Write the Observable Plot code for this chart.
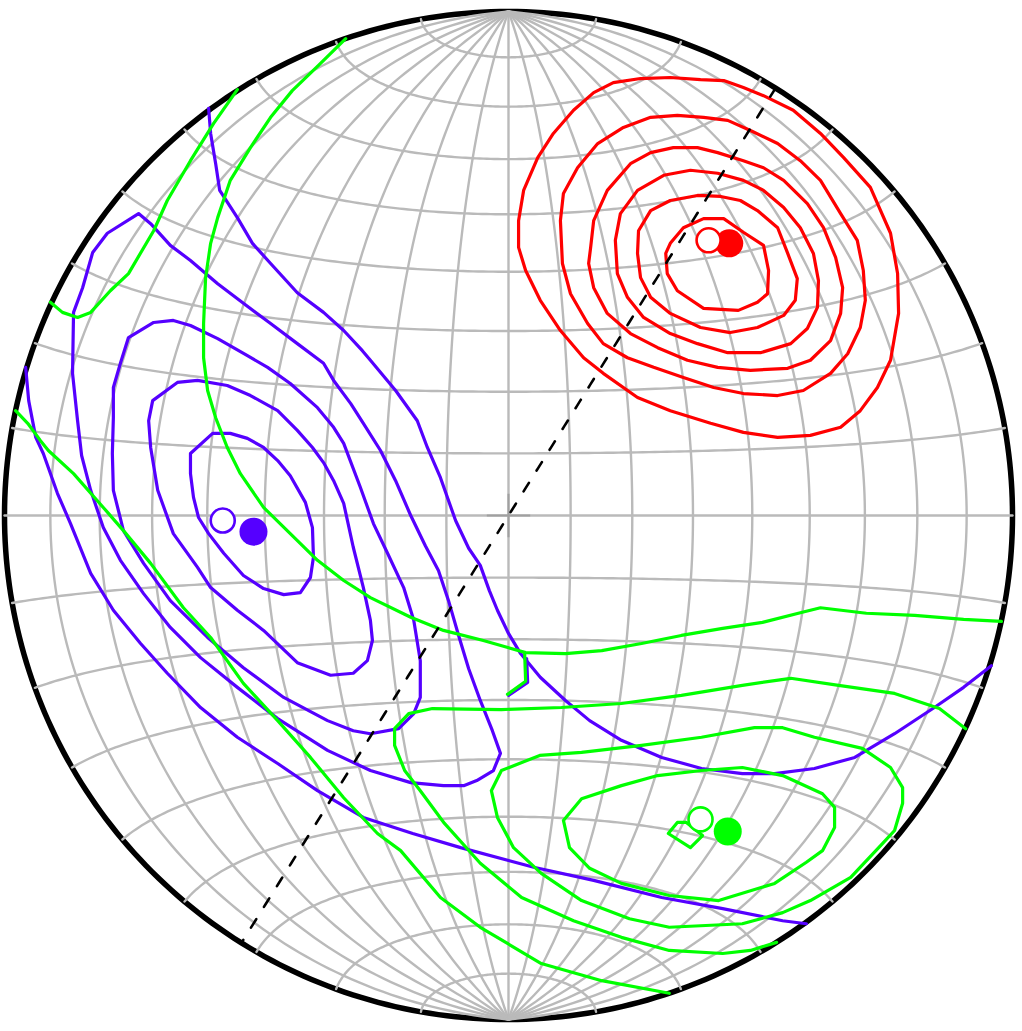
<!DOCTYPE html>
<html><head><meta charset="utf-8">
<script src="https://cdn.jsdelivr.net/npm/d3@7"></script>
<script src="https://cdn.jsdelivr.net/npm/@observablehq/plot@0.6"></script>
<style>html,body{margin:0;padding:0;background:#fff;}</style>
</head><body><div id="chart"></div>
<script>
// ---- Data: projected coordinates on the unit equal-area net (x east, y north) ----
const red1 = [[0.321,0.540],[0.347,0.571],[0.387,0.589],[0.427,0.589],[0.466,0.562],[0.506,0.536],[0.516,0.486],[0.514,0.440],[0.494,0.423],[0.456,0.407],[0.387,0.411],[0.335,0.446],[0.315,0.480],[0.312,0.520]];
const red2 = [[0.258,0.565],[0.282,0.605],[0.321,0.625],[0.375,0.635],[0.421,0.633],[0.460,0.625],[0.494,0.605],[0.534,0.571],[0.554,0.520],[0.573,0.470],[0.569,0.427],[0.546,0.397],[0.494,0.373],[0.440,0.363],[0.381,0.373],[0.321,0.401],[0.282,0.433],[0.262,0.472],[0.256,0.520]];
const red3 = [[0.212,0.546],[0.222,0.599],[0.256,0.645],[0.308,0.675],[0.361,0.685],[0.415,0.679],[0.466,0.665],[0.506,0.645],[0.546,0.611],[0.579,0.571],[0.605,0.520],[0.615,0.466],[0.613,0.413],[0.593,0.371],[0.560,0.341],[0.500,0.323],[0.435,0.323],[0.375,0.341],[0.321,0.361],[0.268,0.393],[0.236,0.433],[0.216,0.480]];
const red4 = [[0.163,0.532],[0.169,0.585],[0.196,0.645],[0.242,0.698],[0.282,0.720],[0.327,0.730],[0.375,0.730],[0.415,0.720],[0.466,0.704],[0.506,0.690],[0.546,0.665],[0.593,0.619],[0.625,0.571],[0.649,0.512],[0.663,0.452],[0.659,0.401],[0.639,0.347],[0.599,0.308],[0.554,0.292],[0.480,0.288],[0.415,0.294],[0.355,0.308],[0.296,0.333],[0.242,0.361],[0.196,0.401],[0.169,0.452],[0.159,0.500]];
const red5 = [[0.103,0.585],[0.109,0.639],[0.137,0.690],[0.177,0.738],[0.228,0.770],[0.282,0.790],[0.335,0.794],[0.387,0.790],[0.435,0.784],[0.480,0.764],[0.534,0.738],[0.579,0.704],[0.619,0.665],[0.659,0.599],[0.692,0.546],[0.704,0.486],[0.708,0.427],[0.698,0.373],[0.673,0.321],[0.639,0.282],[0.585,0.248],[0.534,0.238],[0.466,0.242],[0.407,0.254],[0.347,0.274],[0.288,0.294],[0.236,0.313],[0.188,0.341],[0.157,0.381],[0.123,0.440],[0.107,0.500]];
const red6 = [[0.020,0.532],[0.020,0.585],[0.030,0.645],[0.058,0.710],[0.089,0.758],[0.129,0.804],[0.169,0.839],[0.208,0.859],[0.262,0.867],[0.321,0.869],[0.381,0.865],[0.427,0.863],[0.466,0.849],[0.506,0.833],[0.565,0.804],[0.619,0.758],[0.665,0.710],[0.718,0.651],[0.758,0.560],[0.772,0.480],[0.774,0.401],[0.758,0.308],[0.732,0.254],[0.698,0.208],[0.659,0.175],[0.599,0.159],[0.534,0.155],[0.466,0.165],[0.401,0.183],[0.321,0.208],[0.256,0.234],[0.188,0.282],[0.149,0.313],[0.103,0.367],[0.063,0.427],[0.034,0.486]];

const purple1 = [[-0.631,0.123],[-0.587,0.163],[-0.552,0.163],[-0.518,0.153],[-0.486,0.135],[-0.458,0.109],[-0.433,0.079],[-0.403,0.026],[-0.389,-0.024],[-0.387,-0.083],[-0.393,-0.123],[-0.413,-0.153],[-0.446,-0.157],[-0.486,-0.145],[-0.526,-0.119],[-0.565,-0.075],[-0.595,-0.036],[-0.615,-0.004],[-0.625,0.036],[-0.631,0.083]];
const purple2 = [[-0.706,0.228],[-0.657,0.264],[-0.617,0.268],[-0.558,0.258],[-0.512,0.238],[-0.458,0.208],[-0.419,0.169],[-0.389,0.135],[-0.367,0.105],[-0.347,0.069],[-0.327,0.024],[-0.308,-0.063],[-0.288,-0.143],[-0.274,-0.208],[-0.270,-0.248],[-0.280,-0.288],[-0.308,-0.313],[-0.353,-0.317],[-0.419,-0.292],[-0.486,-0.228],[-0.538,-0.188],[-0.591,-0.143],[-0.617,-0.103],[-0.665,-0.036],[-0.696,0.050],[-0.710,0.135],[-0.714,0.188]];
const purple3 = [[-0.754,0.353],[-0.704,0.383],[-0.665,0.387],[-0.631,0.377],[-0.577,0.351],[-0.518,0.317],[-0.478,0.294],[-0.433,0.262],[-0.379,0.214],[-0.347,0.175],[-0.327,0.143],[-0.294,0.056],[-0.268,-0.016],[-0.240,-0.075],[-0.208,-0.143],[-0.188,-0.208],[-0.175,-0.288],[-0.175,-0.361],[-0.188,-0.393],[-0.218,-0.423],[-0.274,-0.433],[-0.308,-0.427],[-0.359,-0.407],[-0.446,-0.361],[-0.526,-0.302],[-0.597,-0.242],[-0.671,-0.169],[-0.724,-0.095],[-0.764,-0.030],[-0.784,0.050],[-0.786,0.123],[-0.784,0.194],[-0.784,0.254],[-0.770,0.302]];
const purple4 = [[-0.825,0.522],[-0.796,0.560],[-0.734,0.599],[-0.710,0.579],[-0.671,0.536],[-0.631,0.506],[-0.577,0.460],[-0.526,0.421],[-0.472,0.381],[-0.419,0.341],[-0.367,0.302],[-0.347,0.268],[-0.313,0.222],[-0.288,0.183],[-0.254,0.129],[-0.224,0.069],[-0.194,0.000],[-0.165,-0.060],[-0.139,-0.109],[-0.119,-0.169],[-0.099,-0.238],[-0.079,-0.304],[-0.056,-0.367],[-0.032,-0.427],[-0.016,-0.472],[-0.030,-0.506],[-0.063,-0.526],[-0.089,-0.536],[-0.129,-0.536],[-0.194,-0.530],[-0.274,-0.506],[-0.359,-0.466],[-0.458,-0.403],[-0.538,-0.341],[-0.611,-0.282],[-0.671,-0.222],[-0.724,-0.155],[-0.770,-0.089],[-0.804,-0.024],[-0.829,0.050],[-0.847,0.119],[-0.855,0.188],[-0.865,0.282],[-0.863,0.403],[-0.845,0.452]];
const purple5a = [[-0.595,0.808],[-0.591,0.758],[-0.581,0.698],[-0.573,0.645],[-0.538,0.591],[-0.508,0.540],[-0.472,0.500],[-0.419,0.442],[-0.367,0.403],[-0.327,0.367],[-0.290,0.327],[-0.274,0.308],[-0.224,0.248],[-0.181,0.188],[-0.161,0.135],[-0.135,0.075],[-0.105,-0.010],[-0.079,-0.065],[-0.056,-0.099],[-0.038,-0.149],[-0.022,-0.188],[0.000,-0.234],[0.024,-0.274],[0.063,-0.321],[0.113,-0.367],[0.161,-0.407],[0.224,-0.446],[0.304,-0.480],[0.383,-0.502],[0.464,-0.512],[0.528,-0.512],[0.607,-0.502],[0.687,-0.480],[0.766,-0.433],[0.845,-0.381],[0.903,-0.341],[0.958,-0.298]];
const purple5b = [[-0.958,0.294],[-0.952,0.228],[-0.938,0.155],[-0.923,0.123],[-0.895,0.044],[-0.869,-0.016],[-0.829,-0.115],[-0.784,-0.188],[-0.730,-0.254],[-0.677,-0.313],[-0.611,-0.381],[-0.538,-0.440],[-0.458,-0.492],[-0.379,-0.546],[-0.288,-0.599],[-0.190,-0.631],[-0.095,-0.659],[0.050,-0.698],[0.169,-0.724],[0.304,-0.758],[0.425,-0.780],[0.544,-0.804],[0.591,-0.810]];
const purple6 = [[0.036,-0.284],[0.038,-0.331],[0.000,-0.357]];

const green1 = [[-0.323,0.946],[-0.377,0.893],[-0.429,0.843],[-0.472,0.790],[-0.512,0.730],[-0.552,0.665],[-0.577,0.591],[-0.591,0.540],[-0.601,0.472],[-0.605,0.381],[-0.605,0.313],[-0.597,0.248],[-0.581,0.194],[-0.558,0.135],[-0.532,0.083],[-0.486,0.016],[-0.433,-0.036],[-0.379,-0.089],[-0.327,-0.129],[-0.274,-0.163],[-0.194,-0.202],[-0.129,-0.228],[-0.050,-0.248],[0.034,-0.272],[0.113,-0.274],[0.185,-0.268],[0.264,-0.254],[0.343,-0.238],[0.425,-0.224],[0.504,-0.212],[0.583,-0.192],[0.619,-0.183],[0.710,-0.194],[0.806,-0.198],[0.903,-0.206],[0.978,-0.210]];
const green2 = [[-0.538,0.845],[-0.585,0.778],[-0.631,0.704],[-0.677,0.625],[-0.704,0.565],[-0.754,0.480],[-0.790,0.446],[-0.829,0.403],[-0.855,0.393],[-0.885,0.403],[-0.909,0.423]];
const green3 = [[-0.978,0.208],[-0.954,0.183],[-0.929,0.149],[-0.913,0.129],[-0.863,0.083],[-0.804,0.016],[-0.764,-0.030],[-0.710,-0.095],[-0.645,-0.183],[-0.591,-0.242],[-0.526,-0.333],[-0.458,-0.407],[-0.393,-0.480],[-0.327,-0.560],[-0.260,-0.631],[-0.214,-0.665],[-0.135,-0.758],[-0.056,-0.817],[0.065,-0.889],[0.185,-0.923],[0.319,-0.948]];
const green4 = [[0.907,-0.423],[0.855,-0.383],[0.766,-0.353],[0.655,-0.337],[0.560,-0.323],[0.464,-0.337],[0.343,-0.357],[0.224,-0.373],[0.105,-0.381],[-0.014,-0.385],[-0.151,-0.383],[-0.198,-0.393],[-0.226,-0.423],[-0.226,-0.456],[-0.206,-0.506],[-0.175,-0.546],[-0.127,-0.611],[-0.056,-0.690],[0.026,-0.758],[0.129,-0.804],[0.224,-0.837],[0.319,-0.863],[0.425,-0.869],[0.480,-0.863],[0.532,-0.847]];
const green5 = [[0.062,-0.476],[0.145,-0.470],[0.264,-0.456],[0.383,-0.440],[0.488,-0.421],[0.544,-0.421],[0.607,-0.440],[0.702,-0.462],[0.758,-0.500],[0.782,-0.540],[0.782,-0.571],[0.766,-0.625],[0.742,-0.651],[0.679,-0.718],[0.599,-0.764],[0.544,-0.788],[0.464,-0.810],[0.319,-0.817],[0.240,-0.800],[0.145,-0.764],[0.065,-0.710],[0.010,-0.659],[-0.022,-0.599],[-0.034,-0.546],[-0.014,-0.506]];
const green6 = [[0.145,-0.562],[0.224,-0.536],[0.296,-0.516],[0.383,-0.506],[0.464,-0.500],[0.544,-0.516],[0.623,-0.552],[0.647,-0.579],[0.647,-0.619],[0.623,-0.665],[0.591,-0.688],[0.528,-0.730],[0.417,-0.764],[0.319,-0.754],[0.224,-0.730],[0.161,-0.700],[0.121,-0.659],[0.109,-0.605]];
const green7 = [[0.317,-0.631],[0.335,-0.609],[0.353,-0.609],[0.385,-0.635],[0.361,-0.659]];
const green8 = [[0.032,-0.272],[0.034,-0.329],[-0.002,-0.355]];

// Mean directions (filled) and alternative estimates (open), per set
const setNames  = ["red", "purple", "green"];
const filledX = [0.438, -0.506, 0.435];
const filledY = [0.540, -0.032, -0.627];
const openX   = [0.397, -0.567, 0.381];
const openY   = [0.546, -0.010, -0.603];

// Plane drawn dashed (strike / dip, degrees)
const planeStrike = 32;
const planeDip = 90;

// ---- Build tables ----
const colors = {red: "#ff0000", purple: "#5500ff", green: "#00ff00"};
const contours = [
  {set:"red", closed:true, pts:red1},{set:"red", closed:true, pts:red2},{set:"red", closed:true, pts:red3},
  {set:"red", closed:true, pts:red4},{set:"red", closed:true, pts:red5},{set:"red", closed:true, pts:red6},
  {set:"purple", closed:true, pts:purple1},{set:"purple", closed:true, pts:purple2},{set:"purple", closed:true, pts:purple3},
  {set:"purple", closed:true, pts:purple4},{set:"purple", closed:false, pts:purple5a},{set:"purple", closed:false, pts:purple5b},
  {set:"purple", closed:false, pts:purple6},
  {set:"green", closed:false, pts:green1},{set:"green", closed:false, pts:green2},{set:"green", closed:false, pts:green3},
  {set:"green", closed:false, pts:green4},{set:"green", closed:true, pts:green5},{set:"green", closed:true, pts:green6},
  {set:"green", closed:true, pts:green7},{set:"green", closed:false, pts:green8}
];

const rad = Math.PI / 180;
// Lambert azimuthal equal-area (equatorial aspect), normalised to unit primitive
function lambert(lon, lat) {
  const l = lon * rad, p = lat * rad;
  const k = Math.sqrt(2 / (1 + Math.cos(p) * Math.cos(l)));
  return [k * Math.cos(p) * Math.sin(l) / Math.SQRT2, k * Math.sin(p) / Math.SQRT2];
}
// lower-hemisphere equal-area projection of a line (trend, plunge)
function projLine(trend, plunge) {
  const r = Math.SQRT2 * Math.sin((90 - plunge) / 2 * rad);
  return [r * Math.sin(trend * rad), r * Math.cos(trend * rad)];
}

const grid = [];
for (let lon = -80; lon <= 80; lon += 10)
  for (let lat = -90; lat <= 90; lat += 1) grid.push({k: "m" + lon, p: lambert(lon, lat)});
for (let lat = -80; lat <= 80; lat += 10)
  for (let lon = -90; lon <= 90; lon += 1) grid.push({k: "p" + lat, p: lambert(lon, lat)});

const primitive = [];
for (let lat = -90; lat <= 90; lat += 1) primitive.push(lambert(90, lat));
for (let lat = 90; lat >= -90; lat -= 1) primitive.push(lambert(-90, lat));

const plane = [];
{
  const s = planeStrike * rad, d = planeDip * rad;
  const sv = [Math.sin(s), Math.cos(s), 0];
  const dv = [Math.cos(d) * Math.sin(s + Math.PI / 2), Math.cos(d) * Math.cos(s + Math.PI / 2), Math.sin(d)];
  for (let t = 0; t <= 180; t += 1) {
    const c = Math.cos(t * rad), n = Math.sin(t * rad);
    const v = [c * sv[0] + n * dv[0], c * sv[1] + n * dv[1], c * sv[2] + n * dv[2]];
    const plunge = Math.asin(Math.max(-1, Math.min(1, v[2]))) / rad;
    const trend = Math.atan2(v[0], v[1]) / rad;
    plane.push(projLine(trend, plunge));
  }
}

const markers = setNames.map((s, i) => ({set: s, fx: filledX[i], fy: filledY[i], ox: openX[i], oy: openY[i]}));

const contourMarks = contours.map(c => Plot.line(c.pts, {
  x: d => d[0], y: d => d[1], stroke: colors[c.set], strokeWidth: 3.2,
  curve: c.closed ? "linear-closed" : "linear", strokeLinejoin: "round"
}));

const chart = Plot.plot({
  width: 1022, height: 1031,
  marginLeft: 4, marginRight: 10, marginTop: 11, marginBottom: 12,
  x: {domain: [-1, 1], axis: null},
  y: {domain: [-1, 1], axis: null},
  marks: [
    Plot.line(primitive, {x: d => d[0], y: d => d[1], stroke: "black", strokeWidth: 5.5, curve: "linear-closed"}),
    Plot.line(grid, {x: d => d.p[0], y: d => d.p[1], z: "k", stroke: "#bababa", strokeWidth: 2.4}),
    Plot.dot([{x: 0, y: 0}], {x: "x", y: "y", symbol: "plus", r: 14, stroke: "#a0a0a0", strokeWidth: 2}),
    ...contourMarks,
    Plot.line(plane, {x: d => d[0], y: d => d[1], stroke: "black", strokeWidth: 2.6, strokeDasharray: "10,14.5"}),
    Plot.dot(markers, {x: "fx", y: "fy", r: 14, fill: d => colors[d.set], stroke: "none"}),
    Plot.dot(markers, {x: "ox", y: "oy", r: 12, fill: "white", stroke: d => colors[d.set], strokeWidth: 2.6})
  ]
});
document.getElementById("chart").appendChild(chart);
</script>
</body></html>
